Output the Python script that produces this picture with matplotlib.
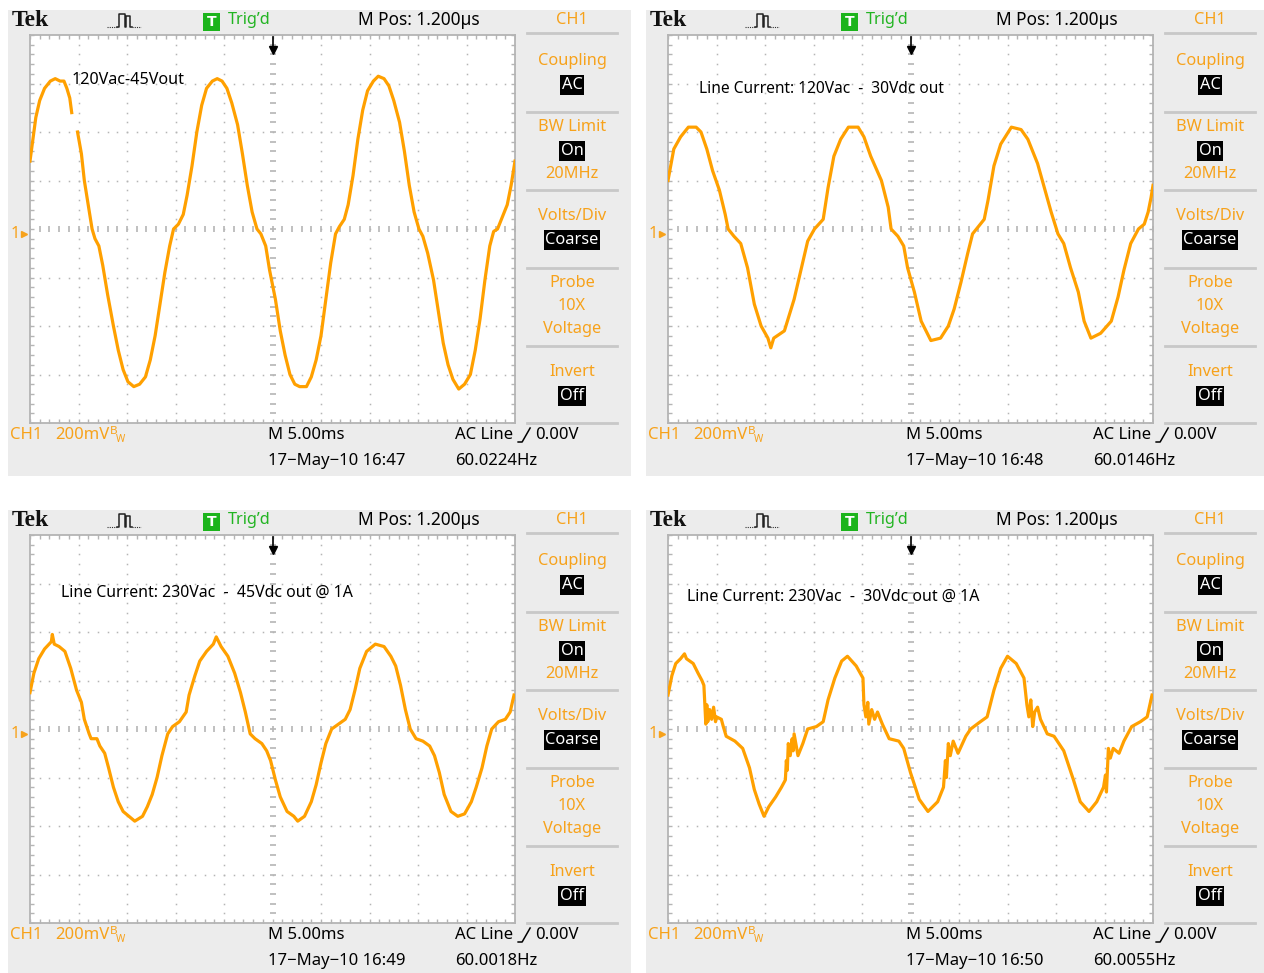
import numpy as np
import matplotlib
matplotlib.use("Agg")
import matplotlib.pyplot as plt
from matplotlib.patches import Rectangle

W, H = 1264, 973
ORANGE = "#f7a21b"
TRACE = "#ffa000"
GREEN = "#22b422"
PANEL_BG = "#ececec"
GRID = "#b5b5b5"
SEP = "#c8c8c8"
UI = ["Liberation Sans Narrow", "Noto Sans", "DejaVu Sans"]
STRETCH = "condensed"

# ---- traces: time (ms, 5 ms/div) vs CH1 (mV, 200 mV/div)
P1_T = [0.0, 0.3, 0.6, 1.0, 1.5, 2.1, 2.6, 3.1, 3.5, 3.8, 4.1, 4.3, 4.6, 4.9, 5.3, 5.6,
        6.0, 6.4, 6.7, 7.1, 7.5, 8.0, 8.6, 9.1, 9.6, 10.1, 10.7, 11.3, 11.9, 12.4, 12.9,
        13.4, 13.9, 14.4, 14.8, 15.3, 15.8, 16.2, 16.7, 17.2, 17.7, 18.2, 18.8, 19.3,
        19.8, 20.3, 20.8, 21.4, 21.9, 22.4, 22.9, 23.4, 23.8, 24.3, 24.7, 25.3, 25.8,
        26.3, 26.8, 27.3, 27.8, 28.5, 29.0, 29.5, 30.0, 30.5, 31.0, 31.5, 31.9, 32.4,
        32.8, 33.3, 33.8, 34.3, 34.8, 35.4, 35.9, 36.5, 37.0, 37.5, 38.1, 38.6, 39.1,
        39.6, 40.1, 40.5, 41.0, 41.6, 42.1, 42.6, 43.1, 43.6, 44.2, 44.8, 45.4, 45.9,
        46.4, 46.9, 47.4, 47.8, 48.2, 48.7, 49.2, 49.6, 50.0]
P1_V = [280, 370, 460, 530, 580, 610, 620, 610, 610, 580, 540, 480, np.nan, 400, 310, 200,
        100, 0, -40, -70, -150, -270, -400, -500, -580, -630, -650, -640, -610, -540, -440,
        -310, -180, -70, 0, 20, 60, 140, 260, 400, 510, 580, 610, 620,
        610, 580, 520, 430, 310, 180, 70, 0, -20, -70, -170, -290, -420,
        -520, -600, -640, -650, -650, -610, -540, -440, -290, -140, -20, 10, 40,
        100, 220, 370, 490, 570, 610, 630, 620, 590, 530, 440, 320, 180,
        70, 0, -30, -100, -210, -340, -470, -560, -620, -660, -640, -600, -500,
        -370, -210, -70, -10, 0, 50, 100, 180, 280]

P2_T = [0.0, 0.6, 1.3, 2.1, 2.9, 3.4, 4.0, 4.6, 5.3, 5.9, 6.2, 6.8, 7.5, 8.2, 8.9, 9.6,
        10.3, 10.6, 10.9, 12.0, 13.0, 13.7, 14.4, 15.1, 16.0, 16.5, 17.1, 17.8, 18.6,
        19.6, 20.2, 20.9, 22.0, 22.7, 23.0, 23.7, 24.3, 24.7, 25.4, 26.1, 27.1, 28.1,
        28.9, 29.5, 30.2, 30.9, 31.4, 32.0, 32.6, 33.0, 33.6, 34.3, 35.4, 36.4, 37.1,
        38.1, 38.8, 39.5, 40.2, 40.8, 41.5, 42.3, 42.9, 43.6, 44.6, 45.7, 46.4, 47.0,
        47.7, 48.5, 49.1, 49.5, 49.8, 50.0]
P2_V = [200, 330, 380, 420, 420, 400, 330, 240, 160, 60, 0, -30, -60, -160, -310, -400,
        -450, -490, -450, -420, -290, -170, -50, 0, 40, 170, 300, 370, 420,
        420, 380, 300, 200, 90, 0, -30, -70, -160, -260, -380, -460, -450,
        -400, -330, -220, -100, -20, 10, 40, 120, 260, 350, 420, 410, 370,
        270, 170, 70, -20, -60, -160, -260, -380, -450, -430, -380, -280, -170,
        -60, 0, 20, 70, 130, 180]

P3_T = [0.0, 0.4, 0.9, 1.5, 2.2, 2.3, 2.5, 3.0, 3.6, 4.2, 4.8, 5.3, 5.6, 6.1, 6.3, 6.9,
        7.2, 7.7, 8.1, 8.6, 9.1, 9.6, 10.2, 10.8, 11.6, 12.1, 12.6, 13.1, 13.6, 14.2,
        14.7, 15.4, 16.1, 16.4, 17.0, 17.5, 18.2, 18.9, 19.2, 19.7, 20.4, 21.1, 21.7,
        22.2, 22.7, 23.2, 23.9, 24.4, 24.8, 25.3, 25.8, 26.5, 27.2, 27.6, 28.3, 29.0,
        29.5, 30.0, 30.5, 31.1, 31.8, 32.5, 33.0, 33.5, 34.0, 34.7, 35.6, 36.5, 37.2,
        37.7, 38.2, 38.7, 39.2, 39.8, 40.5, 41.2, 41.7, 42.2, 42.7, 43.4, 44.1, 44.8,
        45.5, 46.0, 46.6, 47.1, 47.6, 48.3, 49.0, 49.5, 49.9]
P3_V = [150, 230, 290, 330, 360, 390, 350, 340, 320, 250, 160, 110, 40, -20, -40, -40,
        -70, -100, -160, -240, -300, -340, -360, -380, -360, -320, -270, -200, -110, -20,
        10, 30, 70, 140, 220, 280, 320, 350, 380, 340, 300, 230, 150,
        70, -20, -40, -60, -90, -130, -210, -280, -340, -360, -380, -360, -300,
        -230, -140, -60, 0, 20, 40, 80, 160, 250, 320, 350, 340, 300,
        260, 180, 80, 0, -40, -50, -70, -110, -180, -270, -340, -360, -350,
        -300, -240, -160, -70, 0, 30, 40, 70, 140]

P4_T = [0.0, 0.4, 0.8, 1.3, 1.7, 1.9, 2.6, 3.1, 3.5, 3.7, 3.8, 3.9, 4.0, 4.1, 4.3, 4.5,
        4.7, 4.9, 5.0, 5.5, 5.7, 6.0, 6.9, 7.7, 8.4, 8.9, 9.4, 9.9, 10.4, 11.1, 11.7,
        12.1, 12.2, 12.3, 12.4, 12.6, 12.8, 12.9, 13.0, 13.4, 13.9, 14.4, 15.3, 16.0,
        16.5, 17.2, 17.9, 18.5, 19.4, 20.1, 20.2, 20.4, 20.6, 20.7, 21.0, 21.3, 21.6,
        22.1, 22.8, 23.8, 24.3, 25.0, 25.9, 26.8, 27.8, 28.4, 28.6, 28.7, 28.9, 29.1,
        29.4, 29.9, 30.7, 31.2, 32.2, 32.9, 33.6, 34.3, 35.0, 35.9, 36.7, 37.0, 37.2,
        37.4, 37.6, 37.8, 38.1, 38.4, 39.1, 39.8, 40.3, 40.8, 41.3, 41.8, 42.5, 43.4,
        44.2, 44.9, 45.1, 45.2, 45.4, 45.6, 45.9, 46.5, 47.0, 47.8, 48.7, 49.4, 49.9]
P4_V = [140, 220, 270, 290, 310, 290, 270, 230, 200, 180, 100, 20, 100, 30, 80, 40,
        90, 30, 50, 40, 10, -30, -50, -80, -160, -250, -310, -360, -320, -280, -240,
        -210, -130, -170, -60, -110, -40, -90, -20, -110, -60, 0, 10, 30,
        120, 210, 280, 300, 260, 210, 100, 50, 110, 20, 80, 40, 70,
        20, -40, -50, -80, -180, -290, -340, -300, -240, -130, -200, -60, -110,
        -50, -100, -30, 0, 30, 50, 160, 250, 300, 270, 210, 100, 50,
        120, 10, 70, 90, 40, -20, -30, -60, -90, -150, -210, -300, -340,
        -300, -240, -190, -260, -80, -120, -80, -100, -50, 10, 30, 50, 140]

NOTES = ["120Vac-45Vout",
         "Line Current: 120Vac  -  30Vdc out",
         "Line Current: 230Vac  -  45Vdc out @ 1A",
         "Line Current: 230Vac  -  30Vdc out @ 1A"]
NOTE_AT = [(4.3, 614), (3.2, 577), (3.2, 561), (1.95, 547)]
NOTE_WIDTH = [113, 245, 292, 293]
DATES = ["17\u2212May\u221210 16:47", "17\u2212May\u221210 16:48",
         "17\u2212May\u221210 16:49", "17\u2212May\u221210 16:50"]
FREQS = ["60.0224Hz", "60.0146Hz", "60.0018Hz", "60.0055Hz"]
ORIGINS = [(8, 10), (646, 10), (8, 510), (646, 510)]
TRACES = [(P1_T, P1_V), (P2_T, P2_V), (P3_T, P3_V), (P4_T, P4_V)]

MENU_LABELS = [("Coupling", 51), ("BW Limit", 117), ("20MHz", 164), ("Volts/Div", 206),
               ("Probe", 273), ("10X", 296), ("Voltage", 319), ("Invert", 362)]
MENU_BOXES = [("AC", 75), ("On", 141), ("Coarse", 230), ("Off", 386)]
MENU_SEPS = [23, 102, 180, 258, 336, 413]

fig = plt.figure(figsize=(W / 100, H / 100), dpi=100)
fig.patch.set_facecolor("white")
renderer = fig.canvas.get_renderer()


def width_of(s, size, family=UI, **kw):
    t = fig.text(0, 0, s, fontsize=size, family=family, fontstretch=STRETCH, **kw)
    w = t.get_window_extent(renderer).width
    t.remove()
    return w


def fit(s, width_px, family=UI, **kw):
    return 20 * width_px / width_of(s, 20, family, **kw)


SZ_TOP = fit("M Pos: 1.200\u00b5s", 122)
SZ_MENU = fit("Coupling", 69)
SZ_BOT = fit("60.0224Hz", 82)
SZ_NOTE = [fit(s, w) for s, w in zip(NOTES, NOTE_WIDTH)]


def ui(bg, ox, oy, x, y, s, color="black", size=12.5, ha="left", **kw):
    return bg.text(ox + x, oy + y, s, color=color, fontsize=size, ha=ha, va="center",
                   family=UI, fontstretch=STRETCH, **kw)


def right_edge(t):
    return t.get_position()[0] + t.get_window_extent(renderer).width


def draw_panel(bg, k):
    ox, oy = ORIGINS[k]
    bg.add_patch(Rectangle((ox, oy), 623, 466, facecolor=PANEL_BG, edgecolor="none"))

    # top status bar
    bg.text(ox + 4, oy + 11, "Tek", family=["Liberation Serif", "DejaVu Serif"],
            fontweight="bold", fontsize=17, va="center", ha="left", color="#111111")
    bg.plot([ox + 99, ox + 109], [oy + 17, oy + 17], color="#333333", lw=0.8, ls=(0, (1, 1)))
    bg.plot([ox + 109, ox + 111, ox + 111, ox + 117, ox + 117, ox + 118, ox + 118, ox + 122,
             ox + 122, ox + 124],
            [oy + 17, oy + 17, oy + 4, oy + 4, oy + 17, oy + 17, oy + 6, oy + 6, oy + 17, oy + 17],
            color="#222222", lw=1.1)
    bg.plot([ox + 124, ox + 133], [oy + 17, oy + 17], color="#333333", lw=0.8, ls=(0, (1, 1)))
    bg.add_patch(Rectangle((ox + 195, oy + 3), 17, 18, facecolor="#1cb41c", edgecolor="none"))
    bg.text(ox + 203.5, oy + 12, "T", color="white", fontsize=10, fontweight="bold",
            ha="center", va="center", family="DejaVu Sans")
    ui(bg, ox, oy, 220, 10, "Trig\u2019d", color=GREEN, size=SZ_MENU)
    ui(bg, ox, oy, 350, 10, "M Pos: 1.200\u00b5s", size=SZ_TOP)
    ui(bg, ox, oy, 564, 10, "CH1", color=ORANGE, size=SZ_MENU, ha="center")

    # right menu
    for y in MENU_SEPS:
        bg.plot([ox + 519, ox + 609], [oy + y, oy + y], color=SEP, lw=2)
    for s, y in MENU_LABELS:
        ui(bg, ox, oy, 564, y, s, color=ORANGE, size=SZ_MENU, ha="center")
    for s, y in MENU_BOXES:
        ui(bg, ox, oy, 564, y, s, color="white", size=SZ_MENU, ha="center",
           bbox=dict(facecolor="black", edgecolor="none", pad=1.2))

    # bottom readouts
    ui(bg, ox, oy, 2, 425, "CH1", color=ORANGE, size=SZ_BOT)
    mv = ui(bg, ox, oy, 47, 425, "200mV", color=ORANGE, size=SZ_BOT)
    xe = right_edge(mv)
    ui(bg, 0, oy, xe + 1, 422, "B", color=ORANGE, size=SZ_BOT * 0.7)
    ui(bg, 0, oy, xe + 7, 429, "W", color=ORANGE, size=SZ_BOT * 0.6)
    ui(bg, ox, oy, 260, 425, "M 5.00ms", size=SZ_BOT)
    acl = ui(bg, ox, oy, 447, 425, "AC Line", size=SZ_BOT)
    xe = right_edge(acl) + 5
    bg.plot([xe, xe + 4, xe + 12], [oy + 432, oy + 432, oy + 418], color="black", lw=1.1)
    ui(bg, 0, oy, xe + 17, 425, "0.00V", size=SZ_BOT)
    ui(bg, ox, oy, 260, 451, DATES[k], size=SZ_BOT)
    ui(bg, ox, oy, 447, 451, FREQS[k], size=SZ_BOT)

    # ground marker
    ui(bg, ox, oy, 3, 224, "1", color=ORANGE, size=SZ_MENU)
    bg.plot([ox + 16], [oy + 224], marker=">", ms=4.5, color=ORANGE, ls="none")

    # graticule
    gx = fig.add_axes([(ox + 22) / W, 1 - (oy + 413) / H, 485 / W, 388 / H], zorder=2)
    gx.set_facecolor("white")
    gx.set_xlim(0, 50)
    gx.set_ylim(-800, 800)
    gx.set_xticks([])
    gx.set_yticks([])
    for sp in gx.spines.values():
        sp.set_color("#b4b4b4")
        sp.set_linewidth(1.3)

    x_minor = np.arange(0, 50.01, 1.0)
    y_minor = np.arange(-800, 800.1, 40)
    for xm in np.arange(5, 50, 5):
        if xm != 25:
            gx.plot(np.full_like(y_minor, xm), y_minor, ls="none", marker="s", ms=1.1,
                    mew=0, color=GRID)
    for ym in np.arange(-600, 700, 200):
        if ym != 0:
            gx.plot(x_minor, np.full_like(x_minor, ym), ls="none", marker="s", ms=1.1,
                    mew=0, color=GRID)
    gx.plot(x_minor, np.zeros_like(x_minor), ls="none", marker="|", ms=4.5, mew=1.2, color=GRID)
    gx.plot(np.full_like(y_minor, 25), y_minor, ls="none", marker="_", ms=4.5, mew=1.2, color=GRID)
    for yb in (-800, 800):
        gx.plot(x_minor, np.full_like(x_minor, yb), ls="none", marker="|", ms=6, mew=1.0,
                color=GRID)
    for xb in (0, 50):
        gx.plot(np.full_like(y_minor, xb), y_minor, ls="none", marker="_", ms=6, mew=1.0,
                color=GRID)

    t, v = TRACES[k]
    gx.plot(t, v, color=TRACE, lw=2.3, zorder=5)

    # trigger position arrow
    gx.plot([25, 25], [790, 745], color="black", lw=1.2, zorder=6)
    gx.plot([25], [738], marker="v", ms=6, color="black", zorder=6)

    nx, ny = NOTE_AT[k]
    gx.text(nx, ny, NOTES[k], fontsize=SZ_NOTE[k], va="center", ha="left", color="black",
            family=UI, fontstretch=STRETCH, zorder=7)


bg = fig.add_axes([0, 0, 1, 1], zorder=1)
bg.set_xlim(0, W)
bg.set_ylim(H, 0)
bg.axis("off")
for k in range(4):
    draw_panel(bg, k)

fig.savefig("out.png", dpi=100)
